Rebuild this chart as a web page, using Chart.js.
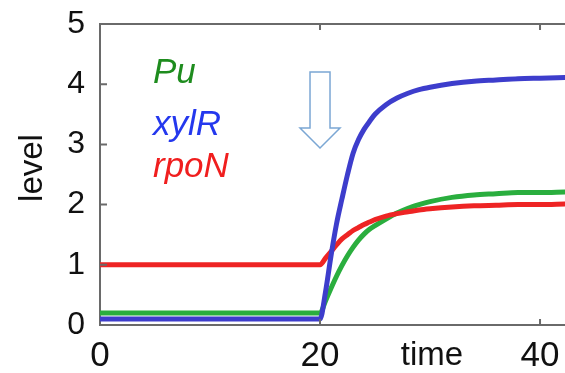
<!DOCTYPE html>
<html>
<head>
<meta charset="utf-8">
<script src="https://cdn.jsdelivr.net/npm/chart.js@4.4.0/dist/chart.umd.min.js"></script>
<style>
  body { margin: 0; background: #fff; }
  canvas { display: block; }
</style>
</head>
<body>
<canvas id="chart" width="565" height="373"></canvas>
<script>
// values
const times = [0, 20, 20.5, 21, 21.5, 22, 22.5, 23, 23.5, 24, 24.5, 25, 26, 27, 28, 29, 30, 32, 34, 36, 38, 40, 42.27];
const puLevel = [0.2, 0.2, 0.4, 0.61, 0.81, 0.99, 1.15, 1.29, 1.41, 1.51, 1.59, 1.65, 1.76, 1.86, 1.94, 2.0, 2.05, 2.12, 2.16, 2.18, 2.2, 2.2, 2.21];
const xylRLevel = [0.1, 0.1, 0.55, 1.15, 1.68, 2.1, 2.5, 2.85, 3.08, 3.25, 3.38, 3.5, 3.66, 3.77, 3.85, 3.91, 3.95, 4.01, 4.05, 4.07, 4.09, 4.1, 4.11];
const rpoNLevel = [1.0, 1.0, 1.11, 1.22, 1.33, 1.43, 1.5, 1.57, 1.62, 1.67, 1.71, 1.75, 1.81, 1.85, 1.88, 1.91, 1.93, 1.96, 1.98, 1.99, 2.0, 2.0, 2.01];
const xTicks = [0, 20, 40];
const yTicks = [0, 1, 2, 3, 4, 5];
const seriesNames = ['Pu', 'xylR', 'rpoN'];
const switchTime = 20;

const toPoints = (vals) => vals.map((v, i) => ({ x: times[i], y: v }));

const axisColor = '#6a6a6a';
const font = '"Liberation Sans", Arial, sans-serif';

// frame top line, inward tick marks, arrow and text labels
const decorations = {
    id: 'decorations',
    afterDraw(chart) {
        const ctx = chart.ctx;
        const area = chart.chartArea;
        const xs = chart.scales.x;
        const ys = chart.scales.y;
        ctx.save();
        ctx.strokeStyle = axisColor;
        ctx.lineWidth = 2;
        ctx.beginPath();
        ctx.moveTo(area.left, area.top);
        ctx.lineTo(area.right, area.top);
        xTicks.forEach((t) => {
            if (t === 0) return;
            const px = xs.getPixelForValue(t);
            ctx.moveTo(px, area.top);
            ctx.lineTo(px, area.top + 6);
            ctx.moveTo(px, area.bottom);
            ctx.lineTo(px, area.bottom - 6);
        });
        yTicks.forEach((t) => {
            if (t === 0 || t === 5) return;
            const py = ys.getPixelForValue(t);
            ctx.moveTo(area.left, py);
            ctx.lineTo(area.left + 7, py);
        });
        ctx.stroke();

        // arrow marking the switch
        const ax = xs.getPixelForValue(switchTime);
        ctx.strokeStyle = '#7ba7d4';
        ctx.lineWidth = 1.5;
        ctx.beginPath();
        ctx.moveTo(ax - 10, 72);
        ctx.lineTo(ax + 10, 72);
        ctx.lineTo(ax + 10, 128);
        ctx.lineTo(ax + 20, 128);
        ctx.lineTo(ax, 148);
        ctx.lineTo(ax - 20, 128);
        ctx.lineTo(ax - 10, 128);
        ctx.closePath();
        ctx.stroke();

        // series names
        ctx.font = 'italic 35px ' + font;
        ctx.textAlign = 'left';
        ctx.textBaseline = 'alphabetic';
        ctx.fillStyle = '#1e8c1e';
        ctx.fillText(seriesNames[0], 153, 83);
        ctx.fillStyle = '#2438ee';
        ctx.fillText(seriesNames[1], 153, 135);
        ctx.fillStyle = '#f01e1e';
        ctx.fillText(seriesNames[2], 153, 177);

        // axis labels
        ctx.fillStyle = '#111';
        ctx.font = '33px ' + font;
        ctx.textAlign = 'center';
        ctx.fillText('time', 432, 365);
        ctx.translate(42, 168);
        ctx.rotate(-Math.PI / 2);
        ctx.fillText('level', 0, 0);
        ctx.restore();
    }
};

new Chart(document.getElementById('chart'), {
    type: 'line',
    data: {
        datasets: [
            { label: 'xylR', data: toPoints(xylRLevel), borderColor: '#3d3dcc', order: 0 },
            { label: 'rpoN', data: toPoints(rpoNLevel), borderColor: '#ee2424', order: 1 },
            { label: 'Pu', data: toPoints(puLevel), borderColor: '#2aae3e', order: 2 },
        ],
    },
    options: {
        responsive: false,
        devicePixelRatio: 1,
        animation: false,
        layout: { padding: { top: 24, right: 0, left: 0, bottom: 0 } },
        elements: {
            point: { radius: 0 },
            line: { borderWidth: 5, cubicInterpolationMode: 'monotone', borderCapStyle: 'round', borderJoinStyle: 'round' },
        },
        plugins: { legend: { display: false }, tooltip: { enabled: false } },
        scales: {
            x: {
                type: 'linear',
                min: 0,
                max: 42.27,
                afterBuildTicks: (scale) => { scale.ticks = xTicks.map((v) => ({ value: v })); },
                afterFit: (scale) => { scale.height = 48; scale.paddingLeft = 0; scale.paddingRight = 0; },
                grid: { display: false, drawTicks: false },
                border: { display: true, color: axisColor, width: 2 },
                ticks: { padding: 10, color: '#111', font: { family: font, size: 35 }, maxRotation: 0 },
            },
            y: {
                min: 0,
                max: 5,
                afterBuildTicks: (scale) => { scale.ticks = yTicks.map((v) => ({ value: v })); },
                afterFit: (scale) => { scale.width = 100; scale.paddingTop = 0; scale.paddingBottom = 0; },
                grid: { display: false, drawTicks: false },
                border: { display: true, color: axisColor, width: 2 },
                ticks: { padding: 15, color: '#111', font: { family: font, size: 32 } },
            },
        },
    },
    plugins: [decorations],
});
</script>
</body>
</html>
